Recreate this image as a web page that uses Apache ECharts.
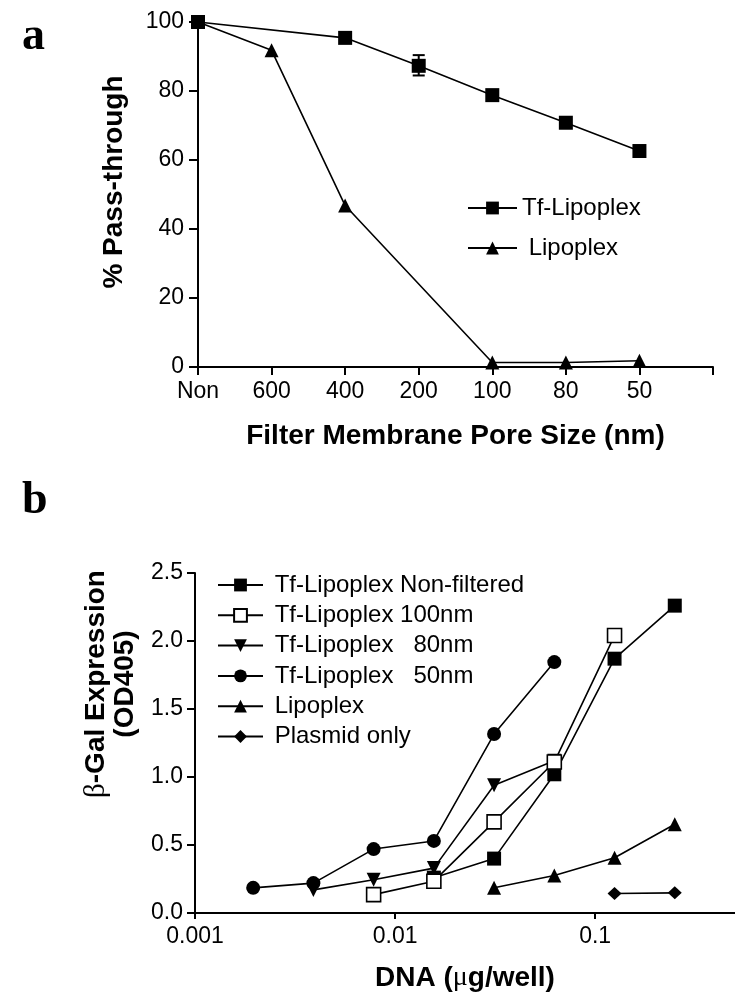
<!DOCTYPE html>
<html>
<head>
<meta charset="utf-8">
<script src="https://cdn.jsdelivr.net/npm/echarts@6/dist/echarts.min.js"></script>
<style>
  html, body { margin: 0; padding: 0; background: #fff; }
  #chart { width: 735px; height: 999px; }
</style>
</head>
<body>
<div id="chart"></div>
<script>
// Panel a: pass-through vs pore size
const poreSizes = ['Non', '600', '400', '200', '100', '80', '50', ''];
const tfLipoplexPass = [100, null, 95.4, 87.3, 78.8, 70.8, 62.6, null];
const lipoplexPass = [100, 91.8, 46.8, null, 1.3, 1.3, 1.8, null];
const errPore = ['200'];
const errLow = [84.5];
const errHigh = [90.4];

// Panel b: beta-gal expression vs DNA dose
const dnaDoses = [0.001953125, 0.00390625, 0.0078125, 0.015625, 0.03125, 0.0625, 0.125, 0.25];
const nonFiltered = [null, null, null, 0.26, 0.40, 1.02, 1.87, 2.26];
const filt100 = [null, null, 0.135, 0.234, 0.67, 1.11, 2.04, null];
const filt80 = [null, 0.17, 0.245, 0.33, 0.94, 1.12, null, null];
const filt50 = [0.185, 0.22, 0.47, 0.53, 1.316, 1.845, null, null];
const lipoplexExpr = [null, null, null, null, 0.185, 0.276, 0.406, 0.653];
const plasmidOnly = [null, null, null, null, null, null, 0.143, 0.148];
const doseTicks = [0.001, 0.01, 0.1];

const SANS = '"Liberation Sans", Arial, sans-serif';
const SERIF = '"Liberation Serif", "Times New Roman", serif';
const TITLE = { fontFamily: SANS, fontWeight: 'bold', fontSize: 28, color: '#000' };

function pairs(values) {
    const out = [];
    values.forEach((v, i) => { if (v !== null) out.push([dnaDoses[i], v]); });
    return out;
}

// Utility: common line series style
function lineSeries(name, data, symbol, axisIdx, extra) {
    return Object.assign({
        name: name,
        type: 'line',
        data: data,
        xAxisIndex: axisIdx,
        yAxisIndex: axisIdx,
        symbol: symbol,
        symbolSize: 14,
        connectNulls: true,
        lineStyle: { color: '#000', width: 1.6 },
        itemStyle: { color: '#000' },
        emphasis: { disabled: true }
    }, extra || {});
}

const chart = echarts.init(document.getElementById('chart'), null, { renderer: 'canvas' });

const option = {
    animation: false,
    backgroundColor: '#fff',
    textStyle: { fontFamily: SANS, color: '#000' },
    grid: [
        { left: 198, top: 22, width: 515, height: 345, outerBoundsMode: 'none' },
        { left: 195, top: 573, width: 540, height: 340, outerBoundsMode: 'none' }
    ],
    xAxis: [
        {
            gridIndex: 0,
            type: 'category',
            data: poreSizes,
            boundaryGap: false,
            name: 'Filter Membrane Pore Size (nm)',
            nameLocation: 'middle',
            nameGap: 55,
            nameTextStyle: TITLE,
            axisLine: { lineStyle: { color: '#000', width: 2 } },
            axisTick: { alignWithLabel: true, length: 8, lineStyle: { color: '#000', width: 2 } },
            axisLabel: { interval: 0, margin: 13, fontSize: 23, color: '#000', fontFamily: SANS },
            splitLine: { show: false }
        },
        {
            gridIndex: 1,
            type: 'log',
            logBase: 10,
            min: 0.001,
            max: 0.5,
            name: 'DNA ({m|μ}g/well)',
            nameLocation: 'middle',
            nameGap: 51,
            nameTextStyle: Object.assign({}, TITLE, {
                rich: { m: { fontFamily: SERIF, fontWeight: 'normal', fontSize: 28, color: '#000' } }
            }),
            axisLine: { lineStyle: { color: '#000', width: 2 } },
            axisTick: { customValues: doseTicks, length: 6, lineStyle: { color: '#000', width: 2 } },
            axisLabel: {
                customValues: doseTicks, margin: 12, fontSize: 23, color: '#000', fontFamily: SANS,
                formatter: v => String(Number(v.toPrecision(3)))
            },
            minorTick: { show: false },
            splitLine: { show: false }
        }
    ],
    yAxis: [
        {
            gridIndex: 0,
            type: 'value',
            min: 0,
            max: 100,
            interval: 20,
            name: '% Pass-through',
            nameLocation: 'middle',
            nameGap: 70,
            nameTextStyle: Object.assign({}, TITLE, { padding: [0, 0, 0, 25] }),
            axisLine: { show: true, lineStyle: { color: '#000', width: 2 } },
            axisTick: { show: true, length: 9, lineStyle: { color: '#000', width: 2 } },
            axisLabel: { margin: 14, fontSize: 23, color: '#000', fontFamily: SANS },
            splitLine: { show: false }
        },
        {
            gridIndex: 1,
            type: 'value',
            min: 0,
            max: 2.5,
            interval: 0.5,
            axisLine: { show: true, lineStyle: { color: '#000', width: 2 } },
            axisTick: { show: true, length: 8, lineStyle: { color: '#000', width: 2 } },
            axisLabel: { margin: 12, fontSize: 23, color: '#000', fontFamily: SANS, formatter: v => v.toFixed(1) },
            splitLine: { show: false }
        }
    ],
    legend: [
        {
            orient: 'vertical',
            left: 467,
            top: 196,
            padding: 0,
            itemWidth: 49,
            itemHeight: 16,
            itemGap: 16,
            data: ['Tf-Lipoplex', 'Lipoplex'],
            formatter: n => (n === 'Lipoplex' ? ' ' + n : n),
            textStyle: { fontSize: 24, lineHeight: 24, color: '#000', fontFamily: SANS },
            selectedMode: false
        },
        {
            orient: 'vertical',
            left: 217,
            top: 573,
            padding: 0,
            itemWidth: 45,
            itemHeight: 16,
            itemGap: 6.3,
            data: ['Tf-Lipoplex Non-filtered', 'Tf-Lipoplex 100nm', 'Tf-Lipoplex   80nm',
                   'Tf-Lipoplex   50nm', 'Lipoplex', 'Plasmid only'],
            formatter: n => ' ' + n,
            textStyle: { fontSize: 24, lineHeight: 24, color: '#000', fontFamily: SANS },
            selectedMode: false
        }
    ],
    graphic: [
        { type: 'text', left: 22, top: 14, style: { text: 'a', font: 'bold 46px ' + SERIF, fill: '#000' } },
        { type: 'text', left: 22, top: 478, style: { text: 'b', font: 'bold 46px ' + SERIF, fill: '#000' } },
        {
            type: 'text', x: 111, y: 684, rotation: Math.PI / 2,
            style: {
                text: '{s|β}{b|-Gal Expression}\n{b|(OD405)}',
                align: 'center', verticalAlign: 'middle', lineHeight: 29, fill: '#000',
                rich: {
                    s: { fontFamily: SERIF, fontSize: 29, lineHeight: 29, fill: '#000' },
                    b: { fontFamily: SANS, fontWeight: 'bold', fontSize: 28, lineHeight: 29, fill: '#000' }
                }
            }
        }
    ],
    series: [
        lineSeries('Tf-Lipoplex', tfLipoplexPass, 'rect', 0, { z: 3 }),
        lineSeries('Lipoplex', lipoplexPass, 'triangle', 0),
        {
            type: 'custom',
            xAxisIndex: 0,
            yAxisIndex: 0,
            data: errPore.map((p, i) => [p, errLow[i], errHigh[i]]),
            encode: { x: 0, y: [1, 2] },
            z: 4,
            renderItem: function (params, api) {
                const x = api.value(0);
                const lo = api.coord([x, api.value(1)]);
                const hi = api.coord([x, api.value(2)]);
                const cap = 6;
                const style = { stroke: '#000', lineWidth: 2 };
                return {
                    type: 'group',
                    children: [
                        { type: 'line', shape: { x1: hi[0], y1: hi[1], x2: lo[0], y2: lo[1] }, style: style },
                        { type: 'line', shape: { x1: hi[0] - cap, y1: hi[1], x2: hi[0] + cap, y2: hi[1] }, style: style },
                        { type: 'line', shape: { x1: lo[0] - cap, y1: lo[1], x2: lo[0] + cap, y2: lo[1] }, style: style }
                    ]
                };
            }
        },
        lineSeries('Tf-Lipoplex Non-filtered', pairs(nonFiltered), 'rect', 1),
        lineSeries('Tf-Lipoplex   80nm', pairs(filt80), 'triangle', 1, { symbolRotate: 180 }),
        lineSeries('Tf-Lipoplex 100nm', pairs(filt100), 'rect', 1, {
            z: 3,
            itemStyle: { color: '#fff', borderColor: '#000', borderWidth: 1.6 }
        }),
        lineSeries('Tf-Lipoplex   50nm', pairs(filt50), 'circle', 1),
        lineSeries('Lipoplex', pairs(lipoplexExpr), 'triangle', 1),
        lineSeries('Plasmid only', pairs(plasmidOnly), 'diamond', 1, { symbolSize: [14, 13] })
    ]
};

chart.setOption(option);
</script>
</body>
</html>
